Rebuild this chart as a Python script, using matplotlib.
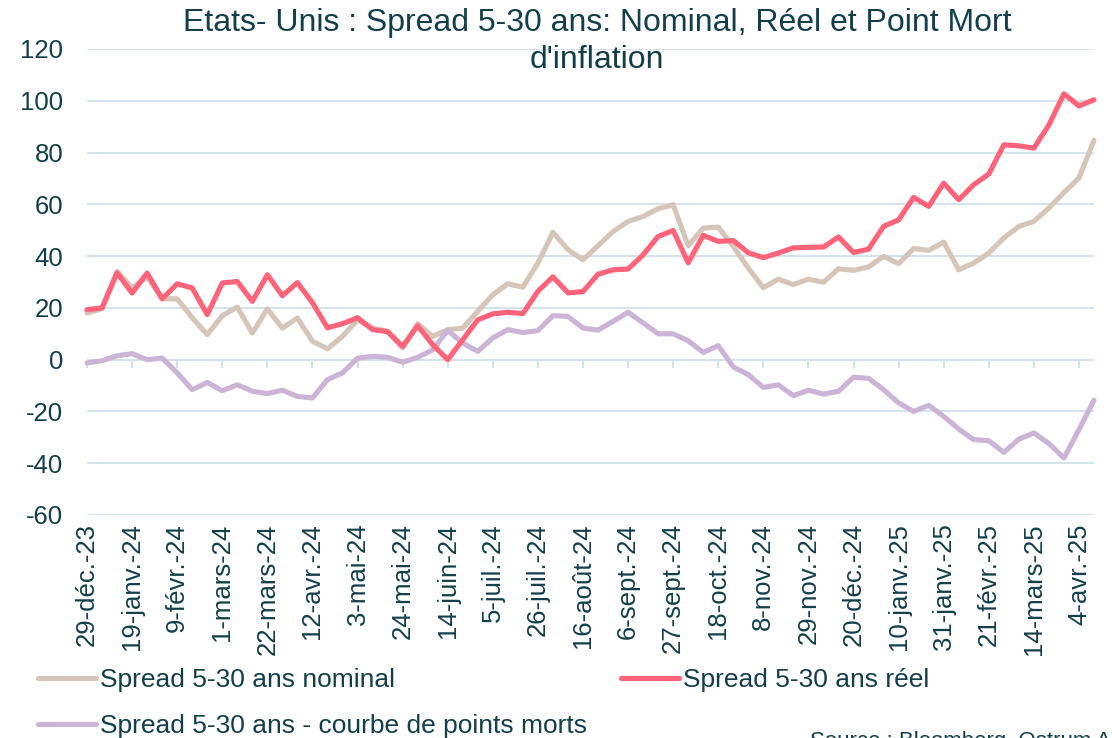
import numpy as np
import matplotlib
matplotlib.use("Agg")
import matplotlib.pyplot as plt

plt.rcParams['font.family'] = ['Liberation Sans', 'DejaVu Sans']
plt.rcParams['axes.unicode_minus'] = False

# weekly observations, 29-déc.-23 .. 11-avr.-25
tick_labels = ['29-déc.-23', '19-janv.-24', '9-févr.-24', '1-mars-24', '22-mars-24',
               '12-avr.-24', '3-mai-24', '24-mai-24', '14-juin-24', '5-juil.-24',
               '26-juil.-24', '16-août-24', '6-sept.-24', '27-sept.-24', '18-oct.-24',
               '8-nov.-24', '29-nov.-24', '20-déc.-24', '10-janv.-25', '31-janv.-25',
               '21-févr.-25', '14-mars-25', '4-avr.-25']

nominal = [18, 19.7, 34.1, 27.7, 32, 23.5, 23.5, 16.2, 9.7, 17, 20.3, 10.3,
           19.6, 12.2, 16.1, 7.1, 4.2, 9, 15.4, 12.2, 11, 4.5, 13.9, 9,
           11.6, 12.2, 18.7, 25.1, 29.3, 28, 37.3, 49.2, 42.5, 38.6, 44, 49.5,
           53.4, 55.3, 58.3, 59.8, 44, 50.8, 51.2, 43.7, 35.4, 27.8, 31.1, 29,
           31.1, 29.9, 35.1, 34.5, 35.8, 39.9, 37.1, 42.9, 42.2, 45.4, 34.7, 37.3,
           41.2, 47, 51.5, 53.4, 58.6, 64.6, 70.2, 84.7]

reel = [19.3, 20, 33.5, 25.7, 33.5, 23.5, 29.3, 27.7, 17.4, 29.6, 30.2, 22.5,
        32.8, 24.7, 29.8, 22, 12.3, 13.9, 16.2, 11.6, 10.8, 5.1, 13.1, 5.8,
        0, 7.7, 15.4, 17.7, 18.3, 17.8, 26.4, 32, 25.8, 26.3, 33, 34.7,
        35, 40.5, 47.6, 49.9, 37.4, 48, 45.7, 46, 41.3, 39.4, 41.2, 43.2,
        43.4, 43.5, 47.4, 41.4, 42.7, 51.5, 54, 62.7, 59.2, 68.2, 61.8, 67.6,
        71.7, 83, 82.6, 81.7, 90.7, 102.7, 98, 100.4]

points_morts = [-1.3, -0.4, 1.5, 2.3, 0, 0.6, -5.1, -11.6, -8.8, -12, -9.7, -12.2,
                -13.1, -11.8, -14.2, -14.8, -7.7, -5.1, 0.6, 1.3, 0.9, -1, 0.9, 3.8,
                11.3, 6.4, 3.2, 8.4, 11.6, 10.5, 11.2, 17, 16.7, 12.2, 11.4, 14.8,
                18.3, 14.2, 10, 10, 7.3, 2.8, 5.4, -2.8, -5.8, -10.7, -9.7, -13.9,
                -11.8, -13.3, -12.2, -6.8, -7.2, -11.6, -16.7, -20, -17.6, -21.9, -26.8, -30.9,
                -31.3, -35.8, -30.7, -28.3, -32.4, -38, -27, -15.7]

c_nom = '#d6c5b9'
c_reel = '#ff6379'
c_pm = '#cbb4d6'
c_txt = '#123f4a'
c_grid = '#d5e3ea'

x = np.arange(len(reel))

fig = plt.figure(figsize=(11.12, 7.38), dpi=100)
ax = fig.add_axes([87 / 1112, 1 - 515 / 738, (1094 - 87) / 1112, (515 - 49) / 738])

lw = 3.7
l1, = ax.plot(x, nominal, color=c_nom, lw=lw, clip_on=False, solid_capstyle='round',
              label='Spread 5-30 ans nominal', zorder=3)
l3, = ax.plot(x, points_morts, color=c_pm, lw=lw, clip_on=False, solid_capstyle='round',
              label='Spread 5-30 ans - courbe de points morts', zorder=3)
l2, = ax.plot(x, reel, color=c_reel, lw=lw, clip_on=False, solid_capstyle='round',
              label='Spread 5-30 ans réel', zorder=4)

ax.set_xlim(0, len(reel) - 1)
ax.set_ylim(-60, 120)
ax.set_yticks(np.arange(-60, 121, 20))
ax.yaxis.grid(True, color=c_grid, lw=1.5)
ax.set_axisbelow(True)
for s in ax.spines.values():
    s.set_visible(False)

ax.tick_params(axis='y', length=0, pad=17, labelsize=18.5, labelcolor=c_txt)
tick_pos = np.arange(0, len(reel), 3)[:len(tick_labels)]
ax.set_xticks(tick_pos)
ax.set_xticklabels(tick_labels, rotation=90, fontsize=18.5, color=c_txt)
ax.tick_params(axis='x', length=0, pad=6)

# small tick marks along the zero line
sec = ax.secondary_xaxis(1 / 3)
sec.set_xticks(tick_pos)
sec.set_xticklabels([])
sec.tick_params(axis='x', direction='out', length=6, width=1.5, color=c_grid)
sec.spines['bottom'].set_visible(False)
sec.spines['top'].set_visible(False)

fig.text(597 / 1112, 1 - 8 / 738, "Etats- Unis : Spread 5-30 ans: Nominal, Réel et Point Mort\nd'inflation",
         ha='center', va='top', fontsize=23, color=c_txt, linespacing=1.3)

# row-major order: nominal, réel / points morts
fig.legend(handles=[l1, l3, l2], loc='upper left', bbox_to_anchor=(38 / 1112, 1 - 668 / 738),
           ncol=2, frameon=False, fontsize=19, labelcolor=c_txt, handlelength=2.2,
           handletextpad=0.15, columnspacing=1.3, borderpad=0, borderaxespad=0, labelspacing=0.85)

fig.text(810 / 1112, 1 - 731 / 738, "Source : Bloomberg, Ostrum AM", ha='left', va='top',
         fontsize=16, color=c_txt)

fig.savefig('out.png', dpi=100)
